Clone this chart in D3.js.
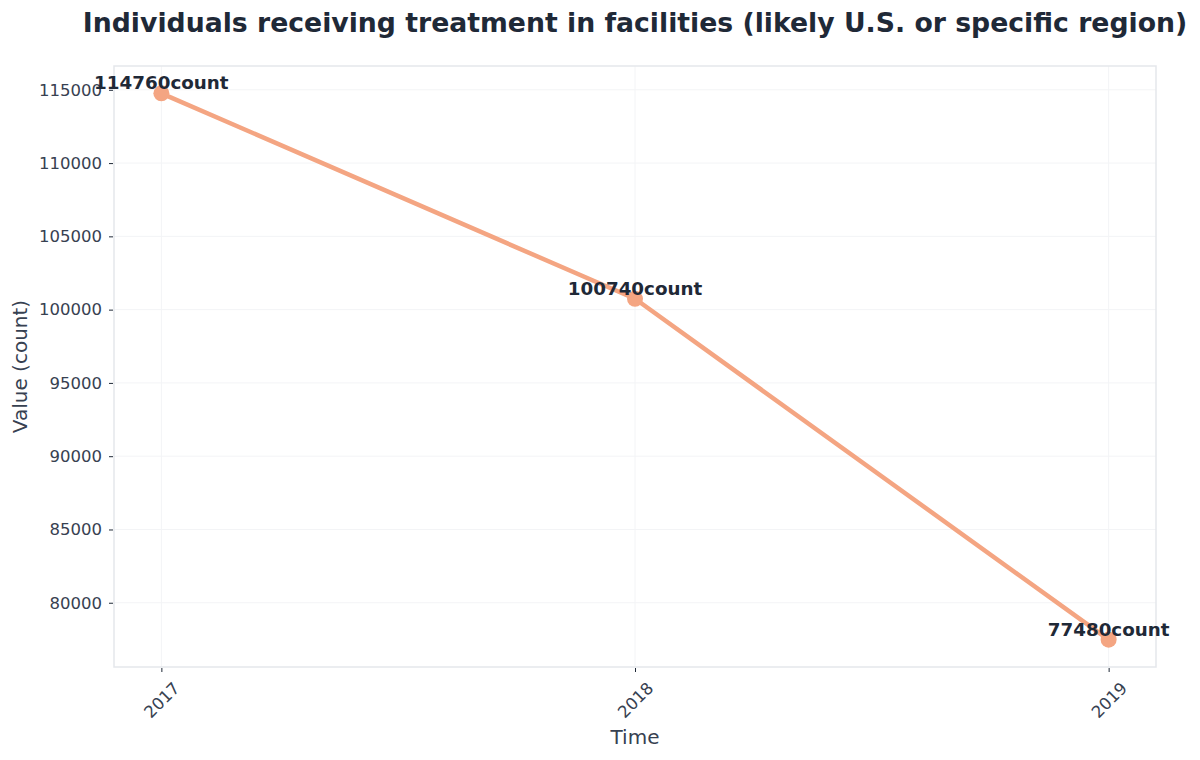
<!DOCTYPE html>
<html>
<head>
<meta charset="utf-8">
<script src="https://cdn.jsdelivr.net/npm/d3@7"></script>
<style>
  body { margin: 0; background: #ffffff; }
  svg text { font-family: "DejaVu Sans", sans-serif; }
</style>
</head>
<body>
<script>
// chart data
const years = [2017, 2018, 2019];
const values = [114760, 100740, 77480];
const unit = "count";
const yTicks = [80000, 85000, 90000, 95000, 100000, 105000, 110000, 115000];

const w = 1200;
const h = 760;
const margin = {top: 66, right: 44, bottom: 93, left: 114};

const svg = d3.select("body")
    .append("svg")
    .attr("width", w)
    .attr("height", h);

// scales with matplotlib-like 5% padding
const xPad = (d3.max(years) - d3.min(years)) * 0.05;
const xScale = d3.scaleLinear()
    .domain([d3.min(years) - xPad, d3.max(years) + xPad])
    .range([margin.left, w - margin.right]);

const yPad = (d3.max(values) - d3.min(values)) * 0.05;
const yScale = d3.scaleLinear()
    .domain([d3.min(values) - yPad, d3.max(values) + yPad])
    .range([h - margin.bottom, margin.top]);

// title
svg.append("text")
    .attr("x", (margin.left + w - margin.right) / 2)
    .attr("y", 32)
    .attr("text-anchor", "middle")
    .attr("font-size", "26.7px")
    .attr("font-weight", "bold")
    .attr("fill", "#1f2937")
    .text("Individuals receiving treatment in facilities (likely U.S. or specific region)");

// grid
svg.append("g")
    .selectAll("line")
    .data(yTicks)
    .enter()
    .append("line")
    .attr("x1", margin.left)
    .attr("x2", w - margin.right)
    .attr("y1", d => yScale(d))
    .attr("y2", d => yScale(d))
    .attr("stroke", "#f3f4f6")
    .attr("stroke-width", 1);

svg.append("g")
    .selectAll("line")
    .data(years)
    .enter()
    .append("line")
    .attr("x1", d => xScale(d))
    .attr("x2", d => xScale(d))
    .attr("y1", margin.top)
    .attr("y2", h - margin.bottom)
    .attr("stroke", "#f3f4f6")
    .attr("stroke-width", 1);

// plot frame
svg.append("rect")
    .attr("x", margin.left)
    .attr("y", margin.top)
    .attr("width", w - margin.left - margin.right)
    .attr("height", h - margin.top - margin.bottom)
    .attr("fill", "none")
    .attr("stroke", "#e5e7eb")
    .attr("stroke-width", 1.5);

// axes
const xAxis = d3.axisBottom(xScale)
    .tickValues(years)
    .tickFormat(d3.format("d"))
    .tickSize(4)
    .tickPadding(6);

const yAxis = d3.axisLeft(yScale)
    .tickValues(yTicks)
    .tickFormat(d3.format("d"))
    .tickSize(4)
    .tickPadding(7);

const gx = svg.append("g")
    .attr("transform", "translate(0, " + (h - margin.bottom + 1) + ")")
    .call(xAxis);
gx.select(".domain").remove();
gx.selectAll(".tick line").attr("stroke", "#1f2937");
gx.selectAll(".tick text")
    .attr("font-size", "16.5px")
    .attr("fill", "#374151")
    .attr("text-anchor", "middle")
    .attr("y", 0)
    .attr("dy", "0.35em")
    .attr("transform", "translate(0, 32) rotate(-45)");

const gy = svg.append("g")
    .attr("transform", "translate(" + (margin.left - 1) + ", 0)")
    .call(yAxis);
gy.select(".domain").remove();
gy.selectAll(".tick line").attr("stroke", "#1f2937");
gy.selectAll(".tick text")
    .attr("font-size", "16.5px")
    .attr("fill", "#374151");

// axis labels
svg.append("text")
    .attr("x", (margin.left + w - margin.right) / 2)
    .attr("y", 744)
    .attr("text-anchor", "middle")
    .attr("font-size", "20px")
    .attr("fill", "#374151")
    .text("Time");

svg.append("text")
    .attr("transform", "translate(27, " + ((margin.top + h - margin.bottom) / 2) + ") rotate(-90)")
    .attr("text-anchor", "middle")
    .attr("font-size", "20px")
    .attr("fill", "#374151")
    .text("Value (" + unit + ")");

// line
const dataset = years.map((y, i) => ({year: y, value: values[i]}));

const line = d3.line()
    .x(d => xScale(d.year))
    .y(d => yScale(d.value));

svg.append("path")
    .datum(dataset)
    .attr("d", line)
    .attr("fill", "none")
    .attr("stroke", "#f4a582")
    .attr("stroke-width", 4.5)
    .attr("stroke-linejoin", "round");

svg.selectAll("circle")
    .data(dataset)
    .enter()
    .append("circle")
    .attr("cx", d => xScale(d.year))
    .attr("cy", d => yScale(d.value))
    .attr("r", 8)
    .attr("fill", "#f4a582");

// value labels
svg.selectAll(".value-label")
    .data(dataset)
    .enter()
    .append("text")
    .attr("class", "value-label")
    .attr("x", d => xScale(d.year))
    .attr("y", d => yScale(d.value) - 4)
    .attr("text-anchor", "middle")
    .attr("font-size", "18.3px")
    .attr("font-weight", "bold")
    .attr("fill", "#1f2937")
    .text(d => d.value + unit);
</script>
</body>
</html>
